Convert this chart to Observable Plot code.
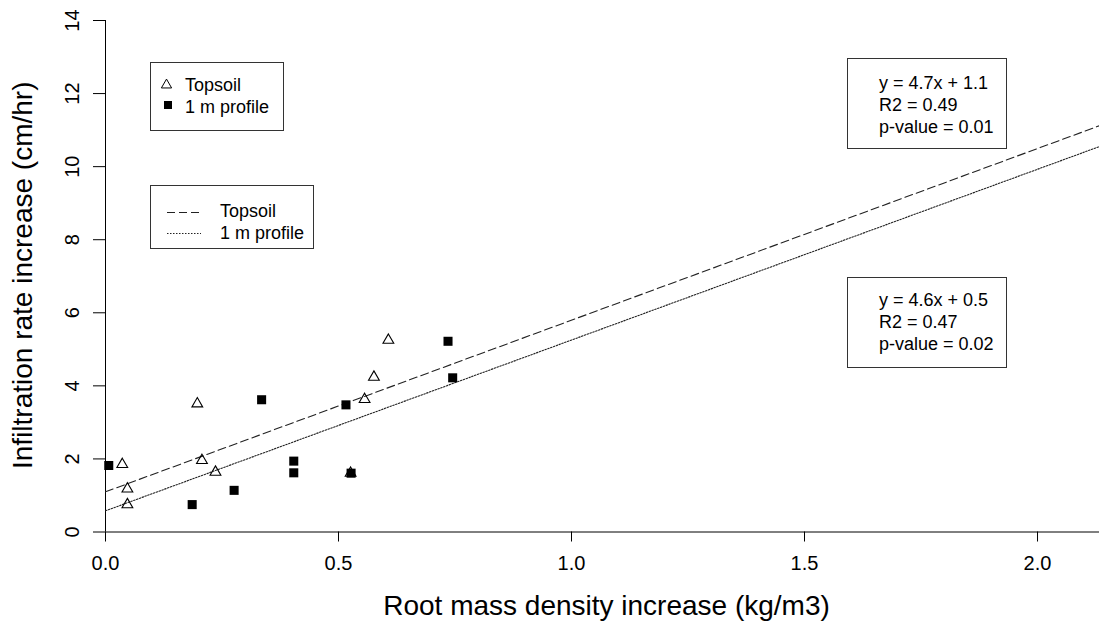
<!DOCTYPE html>
<html>
<head>
<meta charset="utf-8">
<script src="https://cdn.jsdelivr.net/npm/d3@7"></script>
<script src="https://cdn.jsdelivr.net/npm/@observablehq/plot@0.6"></script>
<style>
  html, body { margin: 0; padding: 0; background: #fff; }
  svg { display: block; }
</style>
</head>
<body>
<div id="chart"></div>
<script>
// ---- Data ----
const topsoilX = [0.036, 0.047, 0.047, 0.197, 0.207, 0.236, 0.526, 0.556, 0.576, 0.607];
const topsoilY = [1.85, 1.18, 0.75, 3.51, 1.96, 1.64, 1.61, 3.63, 4.24, 5.25];
const profileX = [0.007, 0.186, 0.276, 0.335, 0.404, 0.404, 0.516, 0.527, 0.735, 0.745];
const profileY = [1.82, 0.75, 1.14, 3.62, 1.94, 1.62, 3.48, 1.61, 5.22, 4.22];

const seriesNames = ["Topsoil", "1 m profile"];
const fitX = [0, 2.133];
const topsoilFitY = [1.1, 11.12];
const profileFitY = [0.58, 10.55];

const xTicks = [0, 0.5, 1.0, 1.5, 2.0];
const yTicks = [0, 2, 4, 6, 8, 10, 12, 14];

const eqTopsoil = ["y = 4.7x + 1.1", "R2 = 0.49", "p-value = 0.01"];
const eqProfile = ["y = 4.6x + 0.5", "R2 = 0.47", "p-value = 0.02"];

const xTitle = "Root mass density increase (kg/m3)";
const yTitle = "Infiltration rate increase (cm/hr)";

// ---- Tables built from the arrays ----
const topsoil = topsoilX.map((x, i) => ({x, y: topsoilY[i]}));
const profile = profileX.map((x, i) => ({x, y: profileY[i]}));
const topsoilFit = fitX.map((x, i) => ({x, y: topsoilFitY[i]}));
const profileFit = fitX.map((x, i) => ({x, y: profileFitY[i]}));

const FONT = "'Liberation Sans', Arial, Helvetica, sans-serif";
const DASH = "8,4";
const DOT = "1.5,1.5";

const plot = Plot.plot({
  width: 1099,
  height: 624,
  marginLeft: 105,
  marginRight: 0,
  marginTop: 20,
  marginBottom: 92.5,
  style: {fontFamily: FONT, background: "white", color: "black", overflow: "visible"},
  x: {domain: [0, 2.133], label: null},
  y: {domain: [0, 14], label: null},
  marks: [
    Plot.ruleY([0], {x1: 0, x2: 2.133, stroke: "black", strokeWidth: 1}),
    Plot.ruleX([0], {y1: 0, y2: 14, stroke: "black", strokeWidth: 1}),
    Plot.axisX(xTicks, {tickSize: 10, tickPadding: 14, fontSize: 20, tickFormat: d3.format(".1f"), label: null, stroke: "black"}),
    Plot.axisY(yTicks, {tickSize: 12, tickPadding: 15, tickRotate: -90, fontSize: 20, tickFormat: d => String(d), label: null, stroke: "black"}),
    Plot.line(topsoilFit, {x: "x", y: "y", stroke: "#222", strokeWidth: 1.1, strokeDasharray: DASH}),
    Plot.line(profileFit, {x: "x", y: "y", stroke: "#222", strokeWidth: 1.1, strokeDasharray: DOT}),
    Plot.dot(profile, {x: "x", y: "y", symbol: "square", r: 5.1, fill: "black", stroke: "none"}),
    Plot.dot(topsoil, {x: "x", y: "y", symbol: "triangle", r: 4, fill: "none", stroke: "black", strokeWidth: 1.1}),
    Plot.text([xTitle], {frameAnchor: "bottom", textAnchor: "middle", dx: 4, dy: 83, fontSize: 28, fill: "black"}),
    Plot.text([yTitle], {frameAnchor: "left", textAnchor: "middle", rotate: -90, dx: -82, dy: -1, fontSize: 28, fill: "black"})
  ]
});

document.getElementById("chart").appendChild(plot);

// ---- Legends and annotation boxes ----
const svg = d3.select(plot);
const g = svg.append("g").attr("font-family", FONT).attr("font-size", 18)
  .attr("fill", "black").attr("text-anchor", "start");

function box(x, y, w, h) {
  g.append("rect").attr("x", x + 0.5).attr("y", y + 0.5).attr("width", w).attr("height", h)
    .attr("fill", "white").attr("stroke", "#333").attr("stroke-width", 1);
}
function label(x, y, t) {
  g.append("text").attr("x", x).attr("y", y).attr("dy", "0.35em")
    .attr("text-anchor", "start").text(t);
}

// Legend 1: symbols
box(150, 62, 133, 68);
g.append("path").attr("transform", "translate(166.5,85)")
  .attr("d", d3.symbol(d3.symbolTriangle, Math.PI * 3.8 * 3.8)())
  .attr("fill", "none").attr("stroke", "black");
g.append("path").attr("transform", "translate(168,105)")
  .attr("d", d3.symbol(d3.symbolSquare, Math.PI * 4.5 * 4.5)())
  .attr("fill", "black");
label(185, 85, seriesNames[0]);
label(185, 107, seriesNames[1]);

// Legend 2: line styles
box(150, 185, 163, 63);
g.append("line").attr("x1", 167).attr("x2", 201).attr("y1", 212.5).attr("y2", 212.5)
  .attr("stroke", "#222").attr("stroke-dasharray", DASH);
g.append("line").attr("x1", 167).attr("x2", 201).attr("y1", 233.5).attr("y2", 233.5)
  .attr("stroke", "#222").attr("stroke-dasharray", DOT);
label(220, 211, seriesNames[0]);
label(220, 233, seriesNames[1]);

// Equation boxes
box(847, 58, 159, 90);
eqTopsoil.forEach((t, i) => label(879, 83 + i * 22, t));
box(847, 277, 159, 90);
eqProfile.forEach((t, i) => label(879, 300 + i * 22, t));
</script>
</body>
</html>
